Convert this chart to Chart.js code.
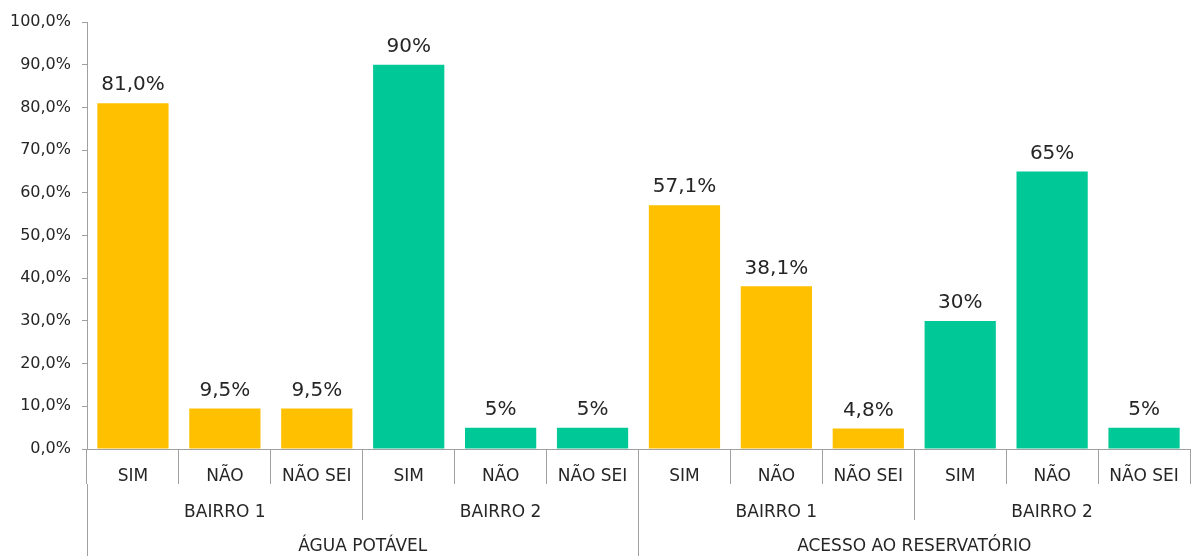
<!DOCTYPE html>
<html>
<head>
<meta charset="utf-8">
<script src="https://cdn.jsdelivr.net/npm/chart.js@4"></script>
<style>
  body { margin: 0; background: #fff; }
  #wrap { width: 1192px; height: 556px; position: relative; }
</style>
</head>
<body>
<div id="wrap"><canvas id="myChart"></canvas></div>
<script>
// data
const answers = ['SIM', 'NÃO', 'NÃO SEI', 'SIM', 'NÃO', 'NÃO SEI', 'SIM', 'NÃO', 'NÃO SEI', 'SIM', 'NÃO', 'NÃO SEI'];
const bairros = ['BAIRRO 1', 'BAIRRO 2', 'BAIRRO 1', 'BAIRRO 2'];
const topics = ['ÁGUA POTÁVEL', 'ACESSO AO RESERVATÓRIO'];
const values = [81.0, 9.5, 9.5, 90, 5, 5, 57.1, 38.1, 4.8, 30, 65, 5];
const valueLabels = ['81,0%', '9,5%', '9,5%', '90%', '5%', '5%', '57,1%', '38,1%', '4,8%', '30%', '65%', '5%'];
const yTicks = [0, 10, 20, 30, 40, 50, 60, 70, 80, 90, 100];

const FONT = '"DejaVu Sans", sans-serif';
const TEXT = '#262626';
const AXIS = '#a0a0a0';
const YELLOW = '#ffc000';
const GREEN = '#00c896';

// each bairro group holds 3 answers
const barColors = answers.map((a, i) => bairros[Math.floor(i / 3)] === 'BAIRRO 1' ? YELLOW : GREEN);

// labels above the bars
const valueLabelPlugin = {
  id: 'valueLabels',
  afterDatasetsDraw(chart) {
    const ctx = chart.ctx;
    const meta = chart.getDatasetMeta(0);
    ctx.save();
    ctx.font = '20px ' + FONT;
    ctx.fillStyle = TEXT;
    ctx.textAlign = 'center';
    ctx.textBaseline = 'bottom';
    meta.data.forEach((bar, i) => {
      ctx.fillText(valueLabels[i], bar.x, bar.y - 8);
    });
    ctx.restore();
  }
};

// only draw real tick boundaries, hide the closing one on the outer levels
const innerOnly = c => c.type === 'tick' ? AXIS : 'rgba(0,0,0,0)';

const data = {
  labels: answers,
  datasets: [{
    data: values,
    backgroundColor: barColors,
    barPercentage: 0.775,
    categoryPercentage: 1
  }]
};

const options = {
  responsive: true,
  maintainAspectRatio: false,
  animation: false,
  layout: { padding: { top: 22, right: 2, bottom: 0, left: 0 } },
  plugins: {
    legend: { display: false },
    tooltip: { enabled: false }
  },
  scales: {
    y: {
      min: 0,
      max: 100,
      afterFit: s => { s.width = 87; },
      afterBuildTicks: s => { s.ticks = yTicks.map(v => ({ value: v })); },
      ticks: {
        color: TEXT,
        font: { family: FONT, size: 16 },
        padding: 11,
        callback: v => v.toFixed(1).replace('.', ',') + '%'
      },
      grid: { drawOnChartArea: false, color: AXIS, tickLength: 5 },
      border: { color: AXIS, width: 1 }
    },
    x: {
      weight: 0,
      afterFit: s => { s.height = 35; },
      ticks: {
        color: TEXT,
        font: { family: FONT, size: 17 },
        padding: -18,
        maxRotation: 0,
        autoSkip: false
      },
      grid: { offset: true, drawOnChartArea: false, color: AXIS, tickLength: 35 },
      border: { color: AXIS, width: 1 }
    },
    x2: {
      type: 'category',
      position: 'bottom',
      weight: 1,
      labels: bairros,
      offset: true,
      afterFit: s => { s.height = 36; },
      ticks: {
        color: TEXT,
        font: { family: FONT, size: 17 },
        padding: -18,
        maxRotation: 0,
        autoSkip: false
      },
      grid: { offset: true, drawOnChartArea: false, color: innerOnly, tickLength: 36 },
      border: { display: false }
    },
    x3: {
      type: 'category',
      position: 'bottom',
      weight: 2,
      labels: topics,
      offset: true,
      afterFit: s => { s.height = 36; },
      ticks: {
        color: TEXT,
        font: { family: FONT, size: 17 },
        padding: -20,
        maxRotation: 0,
        autoSkip: false
      },
      grid: { offset: true, drawOnChartArea: false, color: innerOnly, tickLength: 36 },
      border: { display: false }
    }
  }
};

const ctx = document.getElementById('myChart');
const myChart = new Chart(ctx, {
  type: 'bar',
  data: data,
  options: options,
  plugins: [valueLabelPlugin]
});
</script>
</body>
</html>
